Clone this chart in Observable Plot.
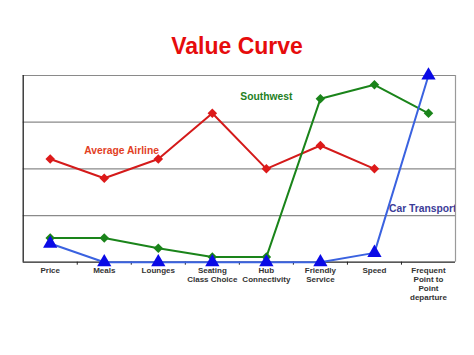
<!DOCTYPE html>
<html>
<head>
<meta charset="utf-8">
<script src="https://cdn.jsdelivr.net/npm/d3@7"></script>
<script src="https://cdn.jsdelivr.net/npm/@observablehq/plot@0.6"></script>
<style>
  html, body { margin: 0; padding: 0; background: #fff; overflow: hidden; }
  #title { width: 474px; height: 60px; box-sizing: border-box; padding-top: 33px; line-height: 23px;
           text-align: center; font: bold 23px "Liberation Sans", Arial, sans-serif; color: #e60c0c; }
  #chart svg { display: block; }
</style>
</head>
<body>
<div id="title">Value Curve</div>
<div id="chart"></div>
<script>
const categories = ["Price", "Meals", "Lounges", "Seating\nClass Choice", "Hub\nConnectivity", "Friendly\nService", "Speed", "Frequent\nPoint to\nPoint\ndeparture"];
const averageAirline = [2.21, 1.8, 2.21, 3.19, 2.0, 2.5, 2.0, null];
const southwest = [0.52, 0.52, 0.3, 0.11, 0.11, 3.5, 3.8, 3.19];
const carTransport = [0.4, 0, 0, 0, 0, 0, 0.2, 4.0];
const gridValues = [1, 2, 3, 4];

const toRows = (vals) => vals.map((v, i) => ({i, v})).filter(d => d.v != null);
const red = toRows(averageAirline), green = toRows(southwest), blue = toRows(carTransport);

const seriesLabels = [
  {text: "Southwest", i: 4, v: 3.55, color: "#1f7f1f"},
  {text: "Average Airline", i: 1.32, v: 2.39, color: "#e2401f"}
];
const carLabel = [{text: "Car Transport", i: 6.27, v: 1.15, color: "#3c3c98"}];

const idx = categories.map((_, i) => i);
const bounds = idx.slice(1).map(i => i - 0.5);

const chart = Plot.plot({
  width: 474,
  height: 295,
  marginTop: 15,
  marginBottom: 93.3,
  marginLeft: 22.7,
  marginRight: 19,
  style: {fontFamily: "'Liberation Sans', Arial, sans-serif", background: "#fff"},
  x: {type: "linear", domain: [-0.5, 7.5], axis: null},
  y: {domain: [0, 4], axis: null},
  marks: [
    Plot.ruleY(gridValues, {stroke: "#8a8a8a", strokeWidth: 1.2}),
    Plot.ruleX([7.5], {stroke: "#9a9a9a", strokeWidth: 1.2}),
    Plot.ruleX([-0.5], {stroke: "#222", strokeWidth: 1.3}),
    Plot.ruleY([0], {stroke: "#222", strokeWidth: 1.3}),
    Plot.axisX({ticks: bounds, tickSize: 3, tickFormat: () => "", stroke: "#222", label: null}),
    Plot.axisX({ticks: idx, tickSize: 0, tickPadding: 5, tickFormat: i => categories[i], label: null,
                fontSize: 8, fontWeight: "bold", fill: "#333", lineHeight: 1.1}),
    Plot.line(red, {x: "i", y: "v", stroke: "#d41a1a", strokeWidth: 2}),
    Plot.line(green, {x: "i", y: "v", stroke: "#1a841a", strokeWidth: 2}),
    Plot.line(blue, {x: "i", y: "v", stroke: "#3a62e0", strokeWidth: 2}),
    Plot.dot(red, {x: "i", y: "v", symbol: "diamond2", r: 4.3, fill: "#dd1a1a", stroke: "none"}),
    Plot.dot(green, {x: "i", y: "v", symbol: "diamond2", r: 4.3, fill: "#1a841a", stroke: "none"}),
    Plot.dot(blue, {x: "i", y: "v", symbol: "triangle", r: 5.3, fill: "#0a0ae6", stroke: "none"}),
    Plot.text(seriesLabels, {x: "i", y: "v", text: "text", fill: d => d.color, textAnchor: "middle",
                       fontSize: 10.3, fontWeight: "bold"}),
    Plot.text(carLabel, {x: "i", y: "v", text: "text", fill: d => d.color, textAnchor: "start",
                       fontSize: 10.3, fontWeight: "bold", clip: true})
  ]
});
document.getElementById("chart").appendChild(chart);
</script>
</body>
</html>
